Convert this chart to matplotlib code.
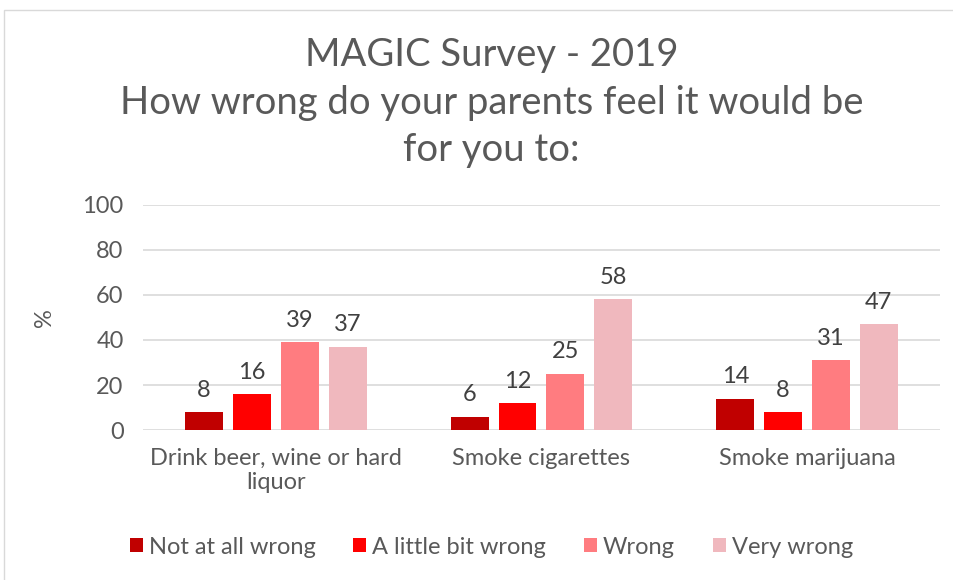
import numpy as np
import matplotlib.pyplot as plt
from matplotlib.patches import Rectangle

# ---------------------------
# Data
# ---------------------------
categories = ["Drink beer, wine or hard\nliquor", "Smoke cigarettes", "Smoke marijuana"]
series_names = ["Not at all wrong", "A little bit wrong", "Wrong", "Very wrong"]
not_at_all = [8, 6, 14]
little_bit = [16, 12, 8]
wrong = [39, 25, 31]
very_wrong = [37, 58, 47]
colors = ["#C00000", "#FF0000", "#FF7C80", "#F0B8BE"]

plt.rcParams["font.family"] = ["Lato", "DejaVu Sans"]
text_color = "#595959"

fig = plt.figure(figsize=(9.54, 5.8), dpi=100)
ax = fig.add_axes([0.150, 0.2586, 0.835, 0.388])

# outer chart border
fig.patches.append(Rectangle((4 / 954, -0.1), 1.1, (570 / 580) + 0.1, transform=fig.transFigure,
                             fill=False, edgecolor="#D9D9D9", linewidth=1))

x = np.arange(len(categories))
width = 0.143
step = 0.18
all_series = [not_at_all, little_bit, wrong, very_wrong]
for i, (vals, name, col) in enumerate(zip(all_series, series_names, colors)):
    pos = x + (i - 1.5) * step
    bars = ax.bar(pos, vals, width=width, color=col, label=name, zorder=3)
    for b, v in zip(bars, vals):
        ax.text(b.get_x() + b.get_width() / 2, v + 5, str(v), ha="center", va="bottom",
                fontsize=17, color="#404040")

ax.set_xlim(-0.5, 2.5)
ax.set_ylim(0, 100)
ax.set_yticks(range(0, 101, 20))
ax.grid(axis="y", color="#D9D9D9", linewidth=1.2, zorder=0)
for s in ["top", "right", "left", "bottom"]:
    ax.spines[s].set_visible(False)
ax.tick_params(axis="y", length=0, labelsize=17, colors=text_color, pad=14)
ax.tick_params(axis="x", length=0, labelsize=17, colors=text_color, pad=13)
ax.set_xticks(x)
ax.set_xticklabels(categories, fontsize=17, color=text_color, linespacing=1.15)
ax.set_ylabel("%", fontsize=17, color=text_color, labelpad=20)

for txt, yy in [("MAGIC Survey - 2019", 55), ("How wrong do your parents feel it would be", 103),
                ("for you to:", 150)]:
    fig.text(0.515, 1 - yy / 580, txt, ha="center", va="center", fontsize=27.5,
             color=text_color)

leg = fig.legend(loc="center", bbox_to_anchor=(0.515, 1 - 547 / 580), ncol=4, frameon=False,
                 fontsize=17, handlelength=0.55, handleheight=0.55, handletextpad=0.25,
                 columnspacing=1.6, labelcolor=text_color)

fig.savefig("out.png", dpi=100)
